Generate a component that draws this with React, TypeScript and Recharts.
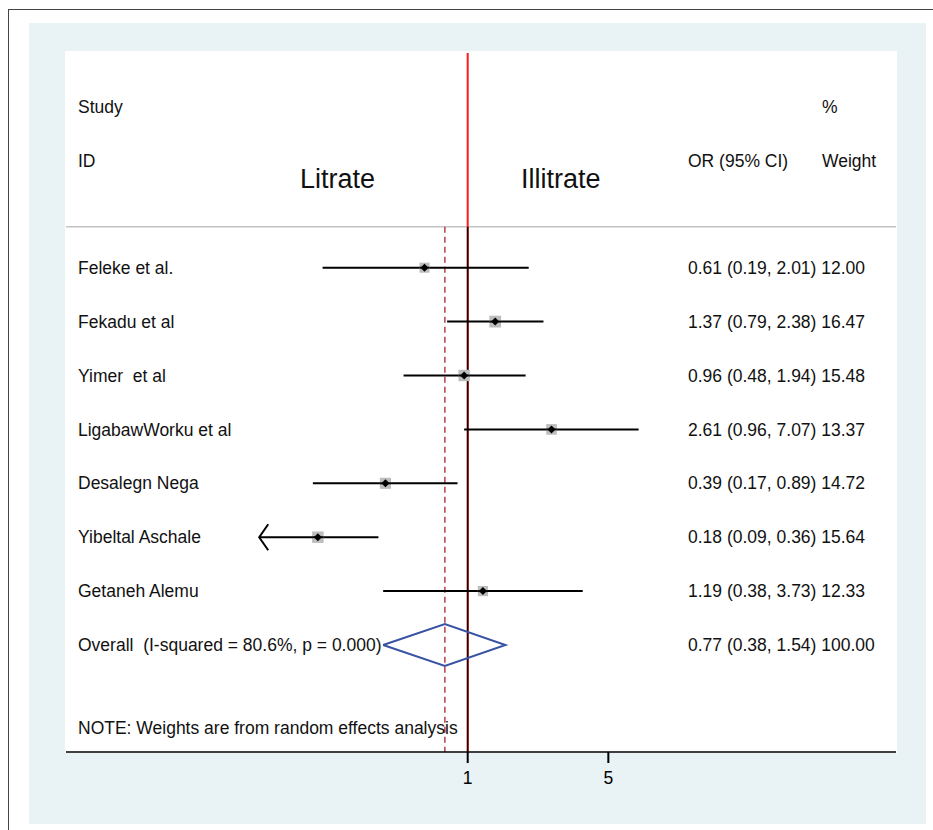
import React from "react";
import { ComposedChart, XAxis, YAxis, Scatter, ReferenceLine } from "recharts";

const studies = [
    "Feleke et al.",
    "Fekadu et al",
    "Yimer  et al",
    "LigabawWorku et al",
    "Desalegn Nega",
    "Yibeltal Aschale",
    "Getaneh Alemu",
];
const oddsRatio = [0.61, 1.37, 0.96, 2.61, 0.39, 0.18, 1.19];
const ciLow = [0.19, 0.79, 0.48, 0.96, 0.17, 0.09, 0.38];
const ciHigh = [2.01, 2.38, 1.94, 7.07, 0.89, 0.36, 3.73];
const weights = [12.0, 16.47, 15.48, 13.37, 14.72, 15.64, 12.33];

const overallLabel = "Overall  (I-squared = 80.6%, p = 0.000)";
const overallOR = 0.77;
const overallLow = 0.38;
const overallHigh = 1.54;
const overallWeight = 100.0;

const xTicks = [1, 5];
// Stata cuts the CI at the edge of its plotting range and draws an arrow
const ciClip = 0.092;

const FONT = '"Liberation Sans", Arial, sans-serif';
const TEXT_SIZE = 17.5;

const fmtRow = (or: number, lo: number, hi: number, w: number) =>
    `${or.toFixed(2)} (${lo.toFixed(2)}, ${hi.toFixed(2)}) ${w.toFixed(2)}`;

const studyRows = studies.map((name, i) => ({
    x: oddsRatio[i],
    y: i,
    weight: weights[i],
    name,
    stats: fmtRow(oddsRatio[i], ciLow[i], ciHigh[i], weights[i]),
}));

const overallRow = studies.length;
const textRows = [
    ...studyRows,
    { x: overallOR, y: overallRow, weight: overallWeight, name: overallLabel, stats: fmtRow(overallOR, overallLow, overallHigh, overallWeight) },
];

const diamond = [
    { x: overallLow, y: overallRow },
    { x: overallOR, y: overallRow - 0.39 },
    { x: overallHigh, y: overallRow },
    { x: overallOR, y: overallRow + 0.39 },
    { x: overallLow, y: overallRow },
];

const headerLineY = -0.76;
const noteY = 8.54;

const StudyMarker = (props: any) => {
    const { cx, cy, payload } = props;
    const half = 1.45 * Math.sqrt(payload.weight);
    return (
        <g>
            <rect x={cx - half} y={cy - half} width={half * 2} height={half * 2} fill="#bdbdbd" />
            <line x1={cx - half} y1={cy} x2={cx + half} y2={cy} stroke="#000" strokeWidth={2} />
            <path d={`M${cx - 4},${cy} L${cx},${cy - 4} L${cx + 4},${cy} L${cx},${cy + 4} Z`} fill="#000" />
        </g>
    );
};

const RowText = (props: any) => {
    const { cy, payload } = props;
    return (
        <g fontFamily={FONT} fontSize={TEXT_SIZE} fill="#111">
            <text x={78} y={cy + 6.2} style={{ whiteSpace: "pre" }}>{payload.name}</text>
            <text x={688} y={cy + 6.2}>{payload.stats}</text>
        </g>
    );
};

const NoteText = (props: any) => {
    const { cy } = props;
    return (
        <text x={78} y={cy + 6.2} fontFamily={FONT} fontSize={TEXT_SIZE} fill="#111">
            NOTE: Weights are from random effects analysis
        </text>
    );
};

const ciShape = (clipped: boolean) => (props: any) => {
    const { x1, y1, x2, y2 } = props;
    return (
        <g>
            <line x1={x1} y1={y1} x2={x2} y2={y2} stroke="#000" strokeWidth={2} />
            {clipped && (
                <path d={`M${x1 + 9},${y1 - 13} L${x1},${y1} L${x1 + 9},${y1 + 13}`} fill="none" stroke="#000" strokeWidth={2} />
            )}
        </g>
    );
};

const AxisTick = (props: any) => {
    const { x, y, payload } = props;
    return (
        <text x={x} y={y + 12.5} textAnchor="middle" fontFamily={FONT} fontSize={TEXT_SIZE} fill="#000">
            {payload.value}
        </text>
    );
};

const ForestPlot: React.FC = () => {
    return (
        <div style={{ position: "absolute", left: 0, top: 0, width: 933, height: 830, overflow: "hidden", background: "#fff" }}>
            <div style={{ position: "absolute", left: 8, top: 9, width: 1000, height: 1000, borderLeft: "1.5px solid #444", borderTop: "1.5px solid #444" }} />
            <div style={{ position: "absolute", left: 29, top: 23, width: 897, height: 801, background: "#e9f2f4" }} />
            <div style={{ position: "absolute", left: 65, top: 51, width: 832, height: 702, background: "#fff" }} />

            <svg style={{ position: "absolute", left: 0, top: 0 }} width={933} height={830} fontFamily={FONT}>
                <g fontSize={TEXT_SIZE} fill="#111">
                    <text x={78} y={112.5}>Study</text>
                    <text x={78} y={166.5}>ID</text>
                    <text x={688} y={166.5}>OR (95% CI)</text>
                    <text x={822} y={112.5}>%</text>
                    <text x={822} y={166.5}>Weight</text>
                </g>
                <g fontSize={27} fill="#111">
                    <text x={300} y={188}>Litrate</text>
                    <text x={521} y={188}>Illitrate</text>
                </g>
            </svg>

            <div style={{ position: "absolute", left: 0, top: 0 }}>
                <ComposedChart width={933} height={830} margin={{ top: 53, right: 37, bottom: 48, left: 66 }}>
                    <XAxis
                        dataKey="x"
                        type="number"
                        scale="log"
                        domain={[0.01008, 134.5]}
                        allowDataOverflow
                        ticks={xTicks}
                        tickSize={11}
                        tickMargin={8}
                        height={30}
                        axisLine={{ stroke: "#000", strokeWidth: 1.5 }}
                        tickLine={{ stroke: "#000", strokeWidth: 2 }}
                        tick={<AxisTick />}
                    />
                    <YAxis dataKey="y" type="number" domain={[-3.983, 8.985]} reversed hide allowDataOverflow />

                    <ReferenceLine y={headerLineY} stroke="#c4c4c4" strokeWidth={1.5} />
                    <ReferenceLine x={1} stroke="#ff1a1a" strokeWidth={2} />
                    <ReferenceLine
                        segment={[{ x: 1, y: headerLineY }, { x: 1, y: 8.985 }]}
                        stroke="#1a0000"
                        strokeWidth={1.6}
                    />
                    <ReferenceLine
                        segment={[{ x: overallOR, y: headerLineY }, { x: overallOR, y: 8.985 }]}
                        stroke="#b4404c"
                        strokeWidth={1.5}
                        strokeDasharray="6 4"
                    />

                    {studies.map((_, i) => (
                        <ReferenceLine
                            key={i}
                            segment={[
                                { x: Math.max(ciLow[i], ciClip), y: i },
                                { x: ciHigh[i], y: i },
                            ]}
                            shape={ciShape(ciLow[i] < ciClip)}
                        />
                    ))}

                    <Scatter data={studyRows} shape={StudyMarker} isAnimationActive={false} />
                    <Scatter data={textRows} shape={RowText} isAnimationActive={false} />
                    <Scatter data={[{ x: 1, y: noteY }]} shape={NoteText} isAnimationActive={false} />
                    <Scatter
                        data={diamond}
                        line={{ stroke: "#3953a4", strokeWidth: 2 }}
                        shape={() => <g />}
                        isAnimationActive={false}
                    />
                </ComposedChart>
            </div>
        </div>
    );
};

export default function App() {
    return <ForestPlot />;
}
